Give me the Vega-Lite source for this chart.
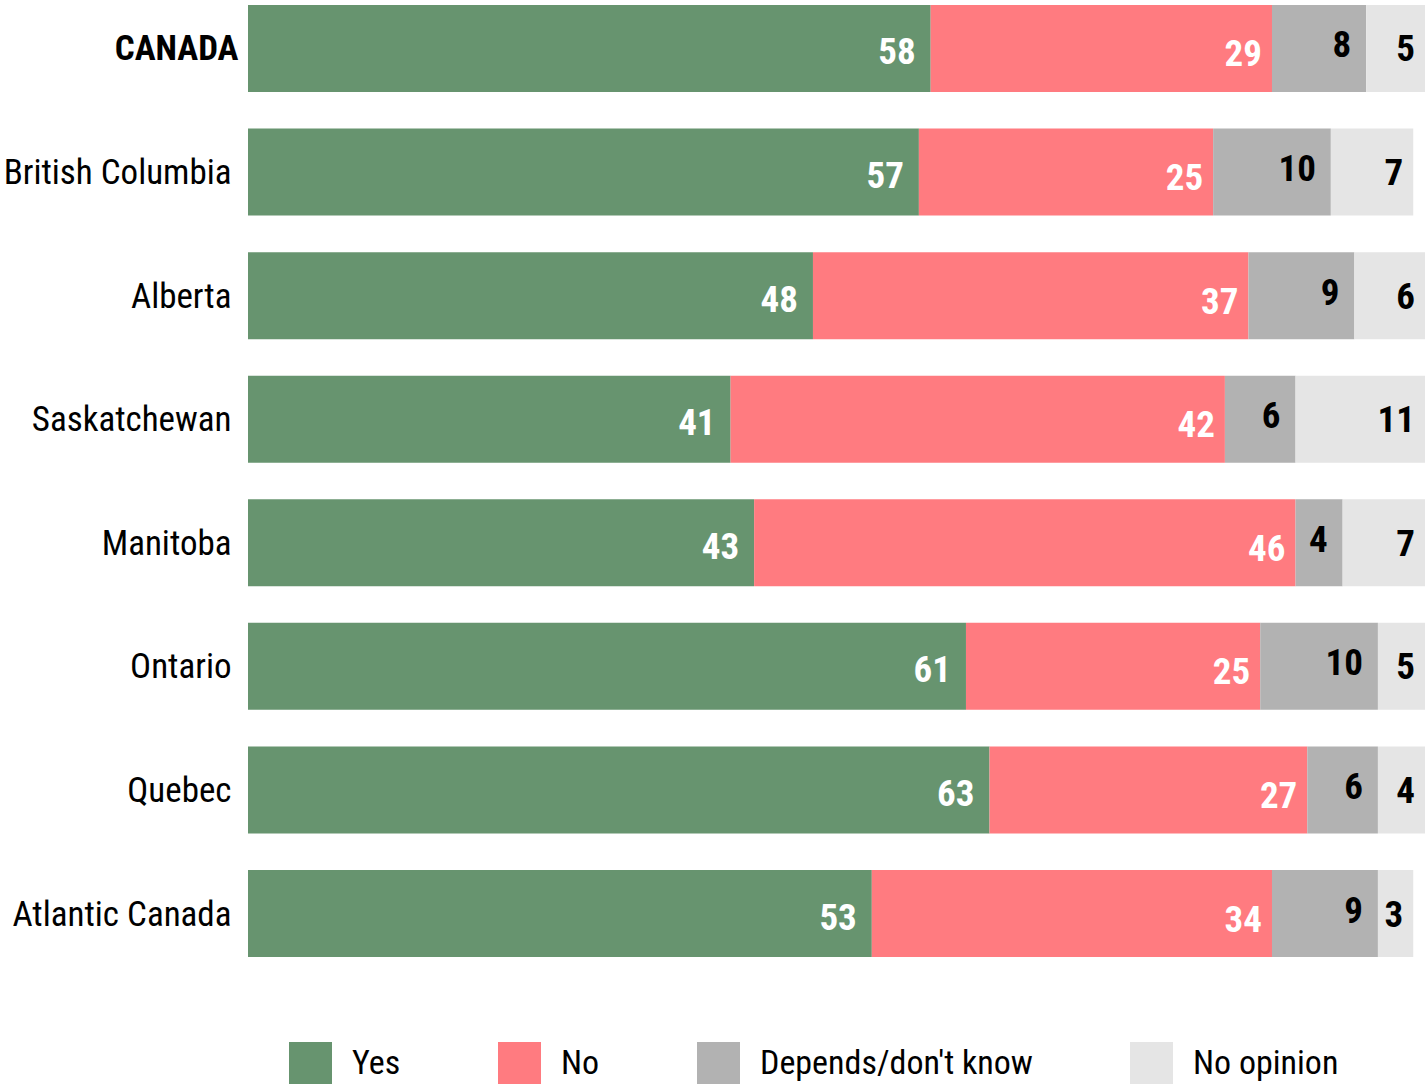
{
  "$schema": "https://vega.github.io/schema/vega-lite/v6.json",
  "width": 1177,
  "height": 952,
  "autosize": {"type": "none"},
  "padding": {"left": 248, "top": 5, "right": 0, "bottom": 127},
  "config": {"view": {"stroke": null}, "font": "'Arial Narrow', 'Liberation Sans Narrow', 'Roboto Condensed', 'DejaVu Sans Condensed', sans-serif"},
  "data": {
    "values": [
      {"region": "CANADA", "answer": "Yes", "order": 1, "value": 58},
      {"region": "CANADA", "answer": "No", "order": 2, "value": 29},
      {"region": "CANADA", "answer": "Depends/don't know", "order": 3, "value": 8},
      {"region": "CANADA", "answer": "No opinion", "order": 4, "value": 5},
      {"region": "British Columbia", "answer": "Yes", "order": 1, "value": 57},
      {"region": "British Columbia", "answer": "No", "order": 2, "value": 25},
      {"region": "British Columbia", "answer": "Depends/don't know", "order": 3, "value": 10},
      {"region": "British Columbia", "answer": "No opinion", "order": 4, "value": 7},
      {"region": "Alberta", "answer": "Yes", "order": 1, "value": 48},
      {"region": "Alberta", "answer": "No", "order": 2, "value": 37},
      {"region": "Alberta", "answer": "Depends/don't know", "order": 3, "value": 9},
      {"region": "Alberta", "answer": "No opinion", "order": 4, "value": 6},
      {"region": "Saskatchewan", "answer": "Yes", "order": 1, "value": 41},
      {"region": "Saskatchewan", "answer": "No", "order": 2, "value": 42},
      {"region": "Saskatchewan", "answer": "Depends/don't know", "order": 3, "value": 6},
      {"region": "Saskatchewan", "answer": "No opinion", "order": 4, "value": 11},
      {"region": "Manitoba", "answer": "Yes", "order": 1, "value": 43},
      {"region": "Manitoba", "answer": "No", "order": 2, "value": 46},
      {"region": "Manitoba", "answer": "Depends/don't know", "order": 3, "value": 4},
      {"region": "Manitoba", "answer": "No opinion", "order": 4, "value": 7},
      {"region": "Ontario", "answer": "Yes", "order": 1, "value": 61},
      {"region": "Ontario", "answer": "No", "order": 2, "value": 25},
      {"region": "Ontario", "answer": "Depends/don't know", "order": 3, "value": 10},
      {"region": "Ontario", "answer": "No opinion", "order": 4, "value": 5},
      {"region": "Quebec", "answer": "Yes", "order": 1, "value": 63},
      {"region": "Quebec", "answer": "No", "order": 2, "value": 27},
      {"region": "Quebec", "answer": "Depends/don't know", "order": 3, "value": 6},
      {"region": "Quebec", "answer": "No opinion", "order": 4, "value": 4},
      {"region": "Atlantic Canada", "answer": "Yes", "order": 1, "value": 53},
      {"region": "Atlantic Canada", "answer": "No", "order": 2, "value": 34},
      {"region": "Atlantic Canada", "answer": "Depends/don't know", "order": 3, "value": 9},
      {"region": "Atlantic Canada", "answer": "No opinion", "order": 4, "value": 3}
    ]
  },
  "transform": [
    {"stack": "value", "groupby": ["region"], "sort": [{"field": "order", "order": "ascending"}], "as": ["x0", "x1"]}
  ],
  "encoding": {
    "y": {
      "field": "region",
      "type": "nominal",
      "sort": ["CANADA", "British Columbia", "Alberta", "Saskatchewan", "Manitoba", "Ontario", "Quebec", "Atlantic Canada"],
      "scale": {"paddingInner": 0.296, "paddingOuter": 0},
      "axis": {
        "title": null,
        "domain": false,
        "ticks": false,
        "grid": false,
        "labelFontSize": 35,
        "labelColor": "black",
        "labelPadding": {"condition": {"test": "datum.value === 'CANADA'", "value": 10}, "value": 17},
        "labelOffset": 1,
        "labelLimit": 260,
        "labelFontWeight": {"condition": {"test": "datum.value === 'CANADA'", "value": "bold"}, "value": "normal"}
      }
    },
    "x": {"field": "x1", "type": "quantitative", "scale": {"domain": [0, 100], "nice": false, "clamp": true}, "axis": null},
    "text": {"field": "value", "type": "quantitative"}
  },
  "layer": [
    {
      "mark": {"type": "bar"},
      "encoding": {
        "x": {"field": "x0", "type": "quantitative"},
        "x2": {"field": "x1"},
        "text": null,
        "color": {
          "field": "answer",
          "type": "nominal",
          "scale": {
            "domain": ["Yes", "No", "Depends/don't know", "No opinion"],
            "range": ["#67946f", "#ff7b80", "#b2b2b2", "#e5e5e5"]
          },
          "legend": {
            "title": null,
            "orient": "none",
            "legendX": 41,
            "legendY": 1037,
            "direction": "horizontal",
            "columns": 4,
            "padding": 0,
            "symbolType": "square",
            "symbolSize": 1849,
            "symbolStrokeWidth": 0,
            "symbolOpacity": 1,
            "labelFontSize": 34,
            "labelColor": "black",
            "labelOffset": 20,
            "labelLimit": 400,
            "columnPadding": 97
          }
        }
      }
    },
    {
      "transform": [{"filter": "datum.order == 1"}],
      "mark": {"type": "text", "align": "right", "baseline": "middle", "dx": -15, "dy": 5, "fontSize": 37, "fontWeight": "bold", "color": "white"}
    },
    {
      "transform": [{"filter": "datum.order == 2"}],
      "mark": {"type": "text", "align": "right", "baseline": "middle", "dx": -10, "dy": 7, "fontSize": 37, "fontWeight": "bold", "color": "white"}
    },
    {
      "transform": [{"filter": "datum.order == 3"}],
      "mark": {"type": "text", "align": "right", "baseline": "middle", "dx": -15, "dy": -2, "fontSize": 37, "fontWeight": "bold", "color": "black"}
    },
    {
      "transform": [{"filter": "datum.order == 4"}],
      "mark": {"type": "text", "align": "right", "baseline": "middle", "dx": -10, "dy": 2, "fontSize": 37, "fontWeight": "bold", "color": "black"}
    }
  ]
}
